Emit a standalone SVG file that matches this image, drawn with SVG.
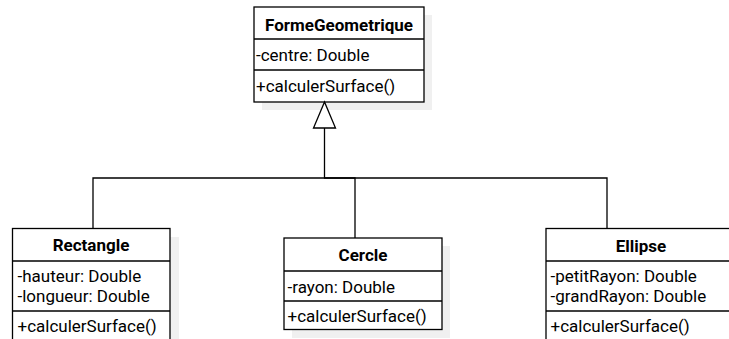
<svg xmlns="http://www.w3.org/2000/svg" width="729" height="339" viewBox="0 0 729 339">
<style>
.box{fill:#ffffff;stroke:#000000;stroke-width:1.3}
.shadow{fill:#f0f0f0;stroke:none}
.div{stroke:#000000;stroke-width:1.3}
.t{font-family:Roboto,"Liberation Sans",sans-serif;font-size:17px;fill:#000000}
.h{font-family:Roboto,"Liberation Sans",sans-serif;font-size:17px;font-weight:bold;fill:#000000;text-anchor:middle}
.c{fill:none;stroke:#000000;stroke-width:1.3}
</style>
<rect width="729" height="339" fill="#ffffff"/>
<g id="FormeGeometrique">
<rect class="shadow" x="262" y="15" width="170" height="95"/>
<rect class="box" x="254" y="7" width="170" height="95"/>
<line class="div" x1="254" y1="39" x2="424" y2="39"/>
<line class="div" x1="254" y1="70" x2="424" y2="70"/>
<text class="h" x="339" y="30.5">FormeGeometrique</text>
<text class="t" x="256" y="61">-centre: Double</text>
<text class="t" x="256" y="91.5">+calculerSurface()</text>
</g>
<g id="Rectangle">
<rect class="shadow" x="21" y="237" width="158" height="115"/>
<rect class="box" x="12.5" y="228.5" width="157.5" height="115"/>
<line class="div" x1="12.5" y1="261" x2="170" y2="261"/>
<line class="div" x1="12.5" y1="311" x2="170" y2="311"/>
<text class="h" x="91" y="251">Rectangle</text>
<text class="t" x="17.5" y="282">-hauteur: Double</text>
<text class="t" x="17.5" y="302">-longueur: Double</text>
<text class="t" x="17.5" y="332">+calculerSurface()</text>
</g>
<g id="Cercle">
<rect class="shadow" x="292" y="246" width="158" height="92"/>
<rect class="box" x="284" y="238" width="158" height="91.5"/>
<line class="div" x1="284" y1="271" x2="442" y2="271"/>
<line class="div" x1="284" y1="301" x2="442" y2="301"/>
<text class="h" x="363" y="261">Cercle</text>
<text class="t" x="287.5" y="293">-rayon: Double</text>
<text class="t" x="287.5" y="322">+calculerSurface()</text>
</g>
<g id="Ellipse">
<rect class="shadow" x="554" y="237" width="190" height="115"/>
<rect class="box" x="546" y="228.5" width="190" height="115"/>
<line class="div" x1="546" y1="261" x2="736" y2="261"/>
<line class="div" x1="546" y1="311" x2="736" y2="311"/>
<text class="h" x="641" y="251.5">Ellipse</text>
<text class="t" x="550.5" y="282">-petitRayon: Double</text>
<text class="t" x="550.5" y="302">-grandRayon: Double</text>
<text class="t" x="550.5" y="332">+calculerSurface()</text>
</g>
<g id="connectors">
<polyline class="c" points="324.5,128 324.5,178 355,178 355,238"/>
<polyline class="c" points="93,228.5 93,178 607,178 607,228.5"/>
<polygon points="324.5,102 313.5,128 335.5,128" fill="#ffffff" stroke="#000000" stroke-width="1.3"/>
</g>
</svg>
